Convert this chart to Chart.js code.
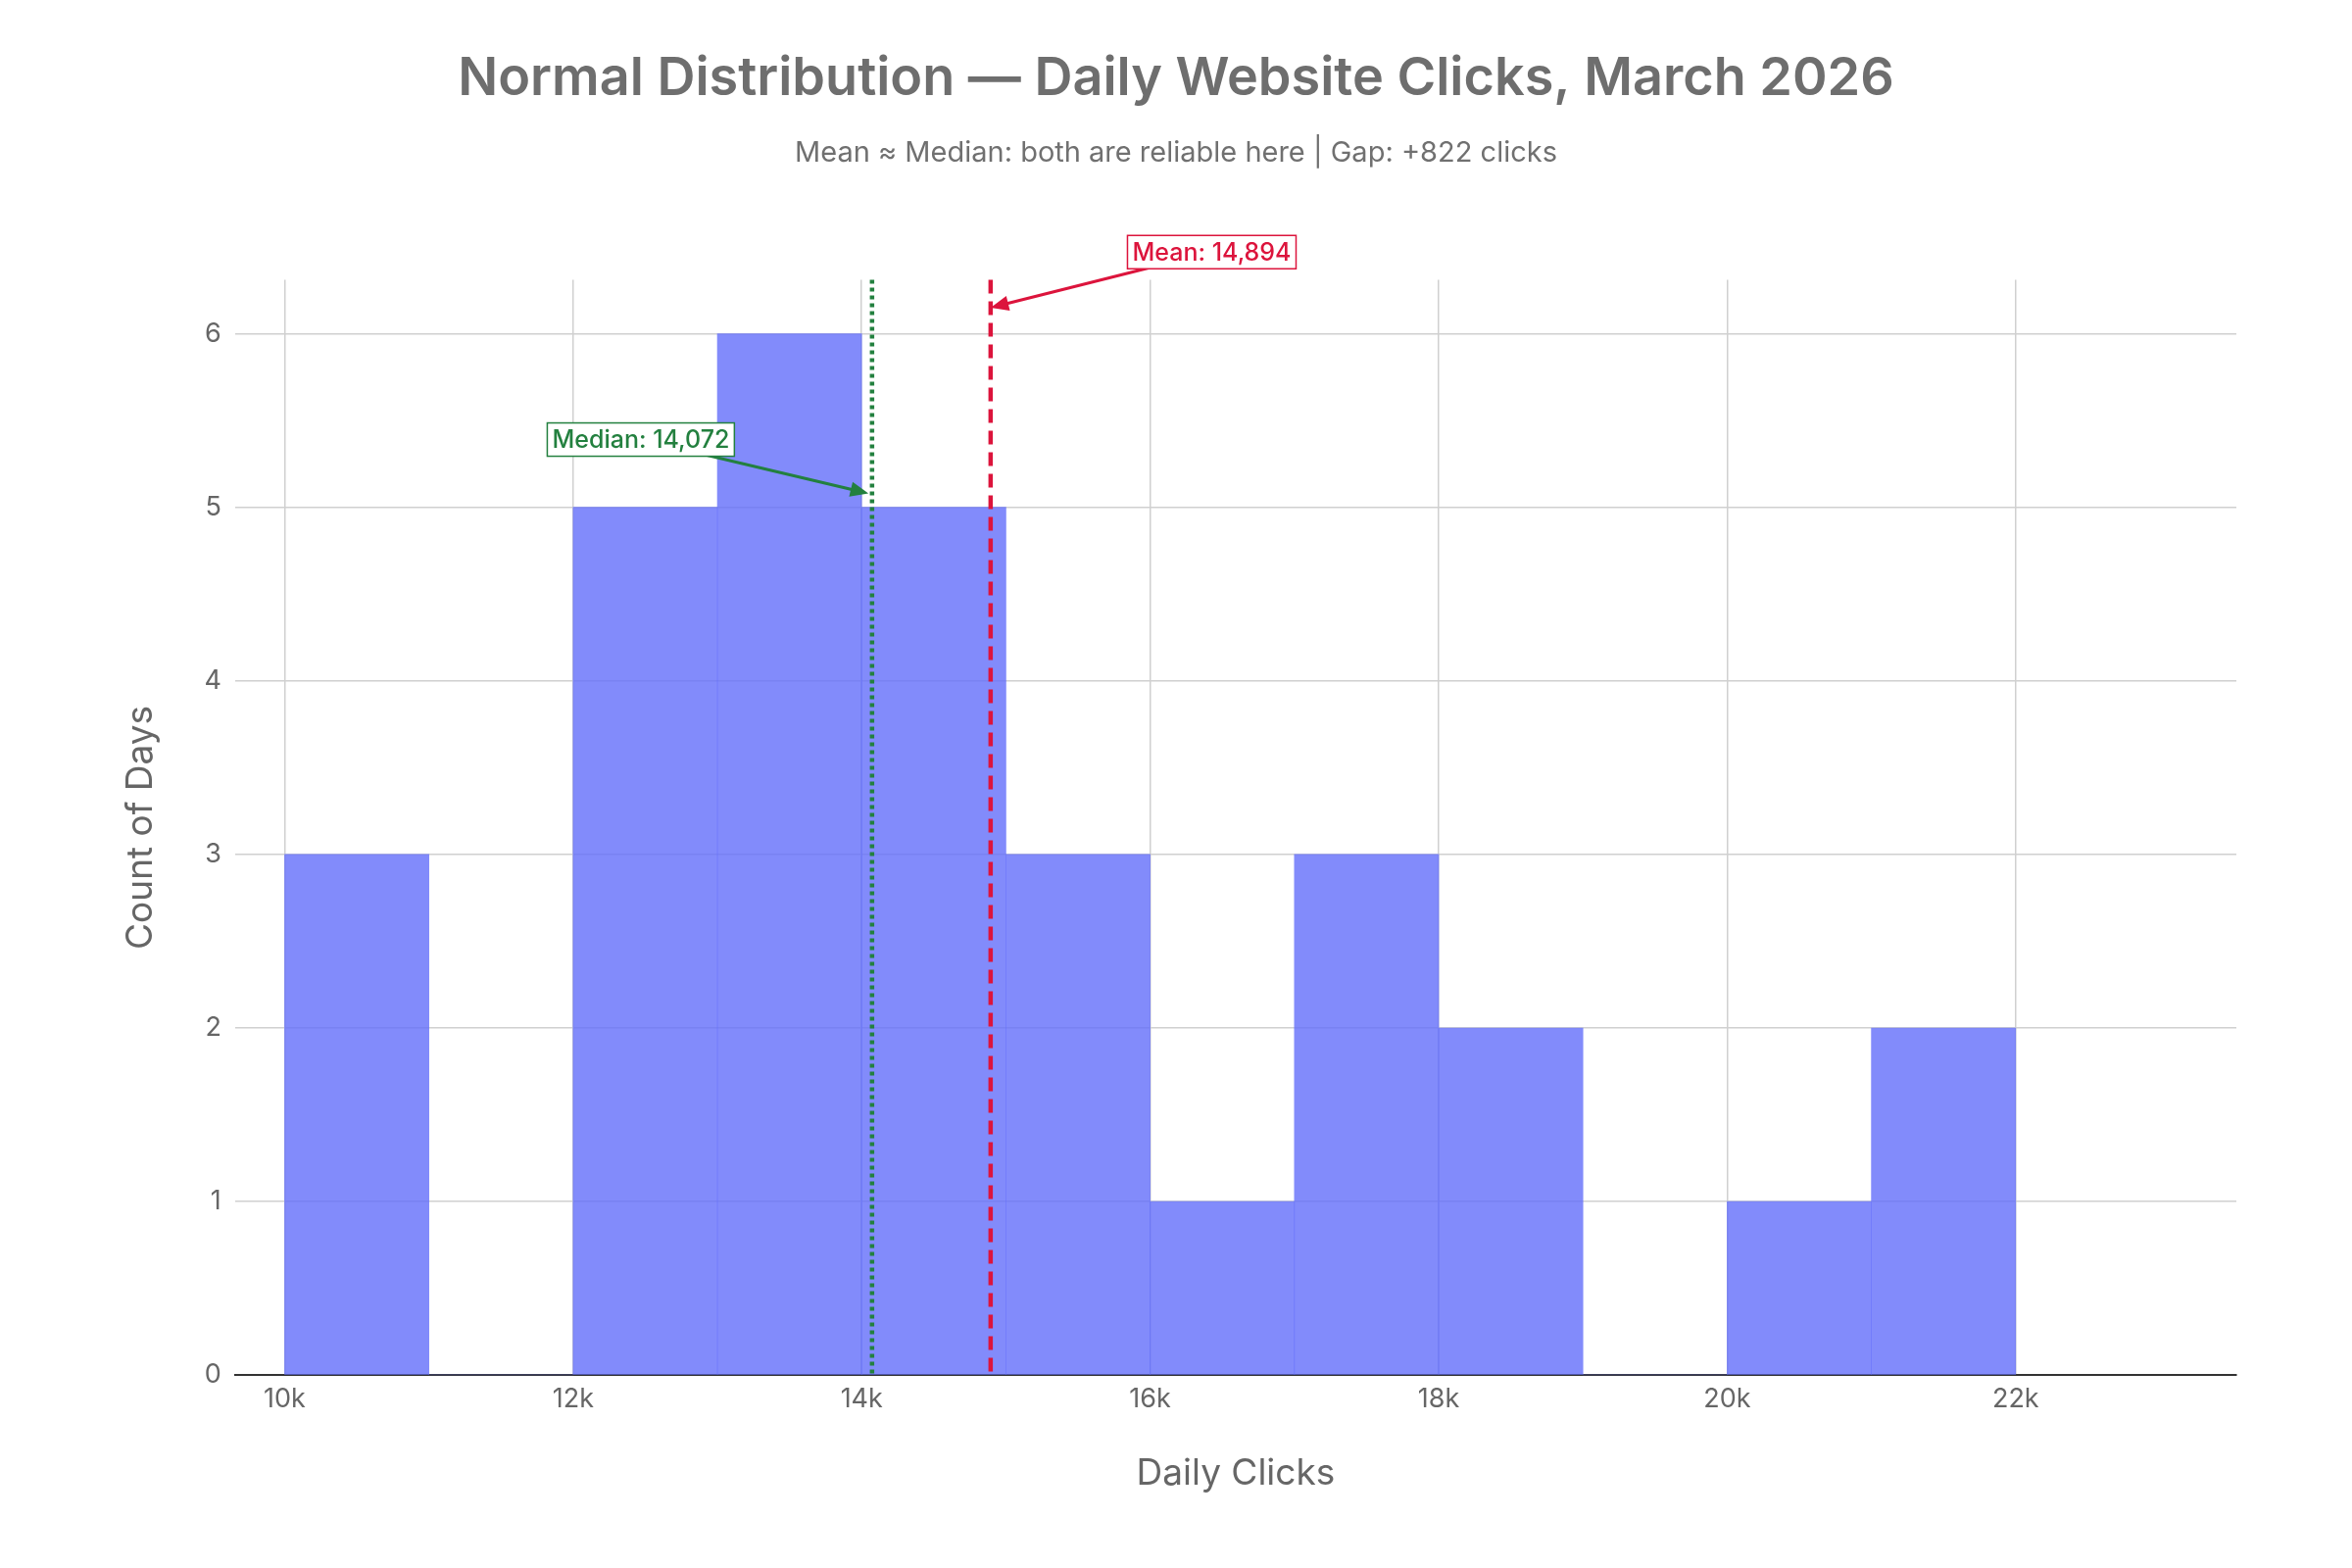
<!DOCTYPE html>
<html><head><meta charset="utf-8">
<script src="https://cdn.jsdelivr.net/npm/chart.js@4/dist/chart.umd.min.js"></script>
<style>html,body{margin:0;background:#fff}</style></head>
<body><canvas id="c" width="2400" height="1600"></canvas>
<script>
const binStarts = [10000,11000,12000,13000,14000,15000,16000,17000,18000,19000,20000,21000];
const binWidth = 1000;
const counts = [3,0,5,6,5,3,1,3,2,0,1,2];
const meanVal = 14894;
const medianVal = 14072;
const xTicks = [10000,12000,14000,16000,18000,20000,22000];
const yTicks = [0,1,2,3,4,5,6];

const FONT = "Inter, 'Liberation Sans', sans-serif";
const data = binStarts.map((s,i)=>({x:s+binWidth/2,y:counts[i]}));

const refLines = {
  id:'refLines',
  afterDatasetsDraw(chart){
    const {ctx, chartArea:a, scales:{x,y}} = chart;
    ctx.save();
    function vline(v,color,dash){
      const px = x.getPixelForValue(v);
      ctx.strokeStyle=color; ctx.lineWidth=4.5; ctx.setLineDash(dash);
      ctx.beginPath(); ctx.moveTo(px,a.top); ctx.lineTo(px,a.bottom); ctx.stroke();
      ctx.setLineDash([]);
    }
    vline(medianVal,'#23803f',[4,4]);
    vline(meanVal,'#dc143c',[14,8]);
    function label(text,color,lx,ly,ax,ay){
      const bx=x.getPixelForValue(lx), by=y.getPixelForValue(ly);
      const hx=x.getPixelForValue(ax), hy=y.getPixelForValue(ay);
      ctx.font="500 25px "+FONT;
      const w=ctx.measureText(text).width+10, h=34;
      const ang=Math.atan2(hy-by,hx-bx);
      ctx.strokeStyle=color; ctx.fillStyle=color; ctx.lineWidth=3;
      ctx.beginPath(); ctx.moveTo(bx,by); ctx.lineTo(hx-12*Math.cos(ang),hy-12*Math.sin(ang)); ctx.stroke();
      ctx.beginPath(); ctx.moveTo(hx,hy);
      ctx.lineTo(hx-20*Math.cos(ang-0.4),hy-20*Math.sin(ang-0.4));
      ctx.lineTo(hx-20*Math.cos(ang+0.4),hy-20*Math.sin(ang+0.4));
      ctx.closePath(); ctx.fill();
      ctx.fillStyle='#fff'; ctx.fillRect(bx-w/2,by-h/2,w,h);
      ctx.lineWidth=1.5; ctx.strokeRect(bx-w/2,by-h/2,w,h);
      ctx.fillStyle=color; ctx.textAlign='center'; ctx.textBaseline='middle';
      ctx.fillText(text,bx,by+1);
    }
    label('Mean: 14,894','#dc143c',16427,6.47,meanVal,6.15);
    label('Median: 14,072','#23803f',12469,5.39,medianVal-25,5.08);
    ctx.restore();
  }
};

new Chart(document.getElementById('c'),{
  type:'bar',
  data:{datasets:[{data, backgroundColor:'rgba(99,110,250,0.8)', borderWidth:0,
    barPercentage:1, categoryPercentage:1}]},
  options:{
    responsive:false, animation:false, devicePixelRatio:1,
    layout:{padding:{left:118,right:118,top:0,bottom:70}},
    plugins:{
      legend:{display:false}, tooltip:{enabled:false},
      title:{display:true,text:'Normal Distribution — Daily Website Clicks, March 2026',
        color:'#6e6e6e',font:{family:FONT,size:54,weight:'600'},padding:{top:48,bottom:26}},
      subtitle:{display:true,text:'Mean ≈ Median: both are reliable here | Gap: +822 clicks',
        color:'#707070',font:{family:FONT,size:29},padding:{bottom:112}}
    },
    scales:{
      x:{type:'linear',min:9656,max:23530,offset:false,
        afterBuildTicks(ax){ax.ticks=xTicks.map(v=>({value:v}));},
        ticks:{color:'#666',font:{family:FONT,size:27},padding:8,callback:v=>(v/1000)+'k'},
        grid:{color:'#d0d0d0',lineWidth:1.5,drawTicks:false,offset:false},
        border:{display:true,color:'#333',width:2},
        title:{display:true,text:'Daily Clicks',color:'#666',font:{family:FONT,size:37},padding:{top:30}}},
      y:{min:0,max:6.31,
        afterBuildTicks(ax){ax.ticks=yTicks.map(v=>({value:v}));},
        ticks:{color:'#666',font:{family:FONT,size:27},padding:14},
        grid:{color:'#d0d0d0',lineWidth:1.5,drawTicks:false},
        border:{display:false},
        title:{display:true,text:'Count of Days',color:'#666',font:{family:FONT,size:37},padding:{bottom:28}}}
    }
  },
  plugins:[refLines]
});
</script></body></html>
